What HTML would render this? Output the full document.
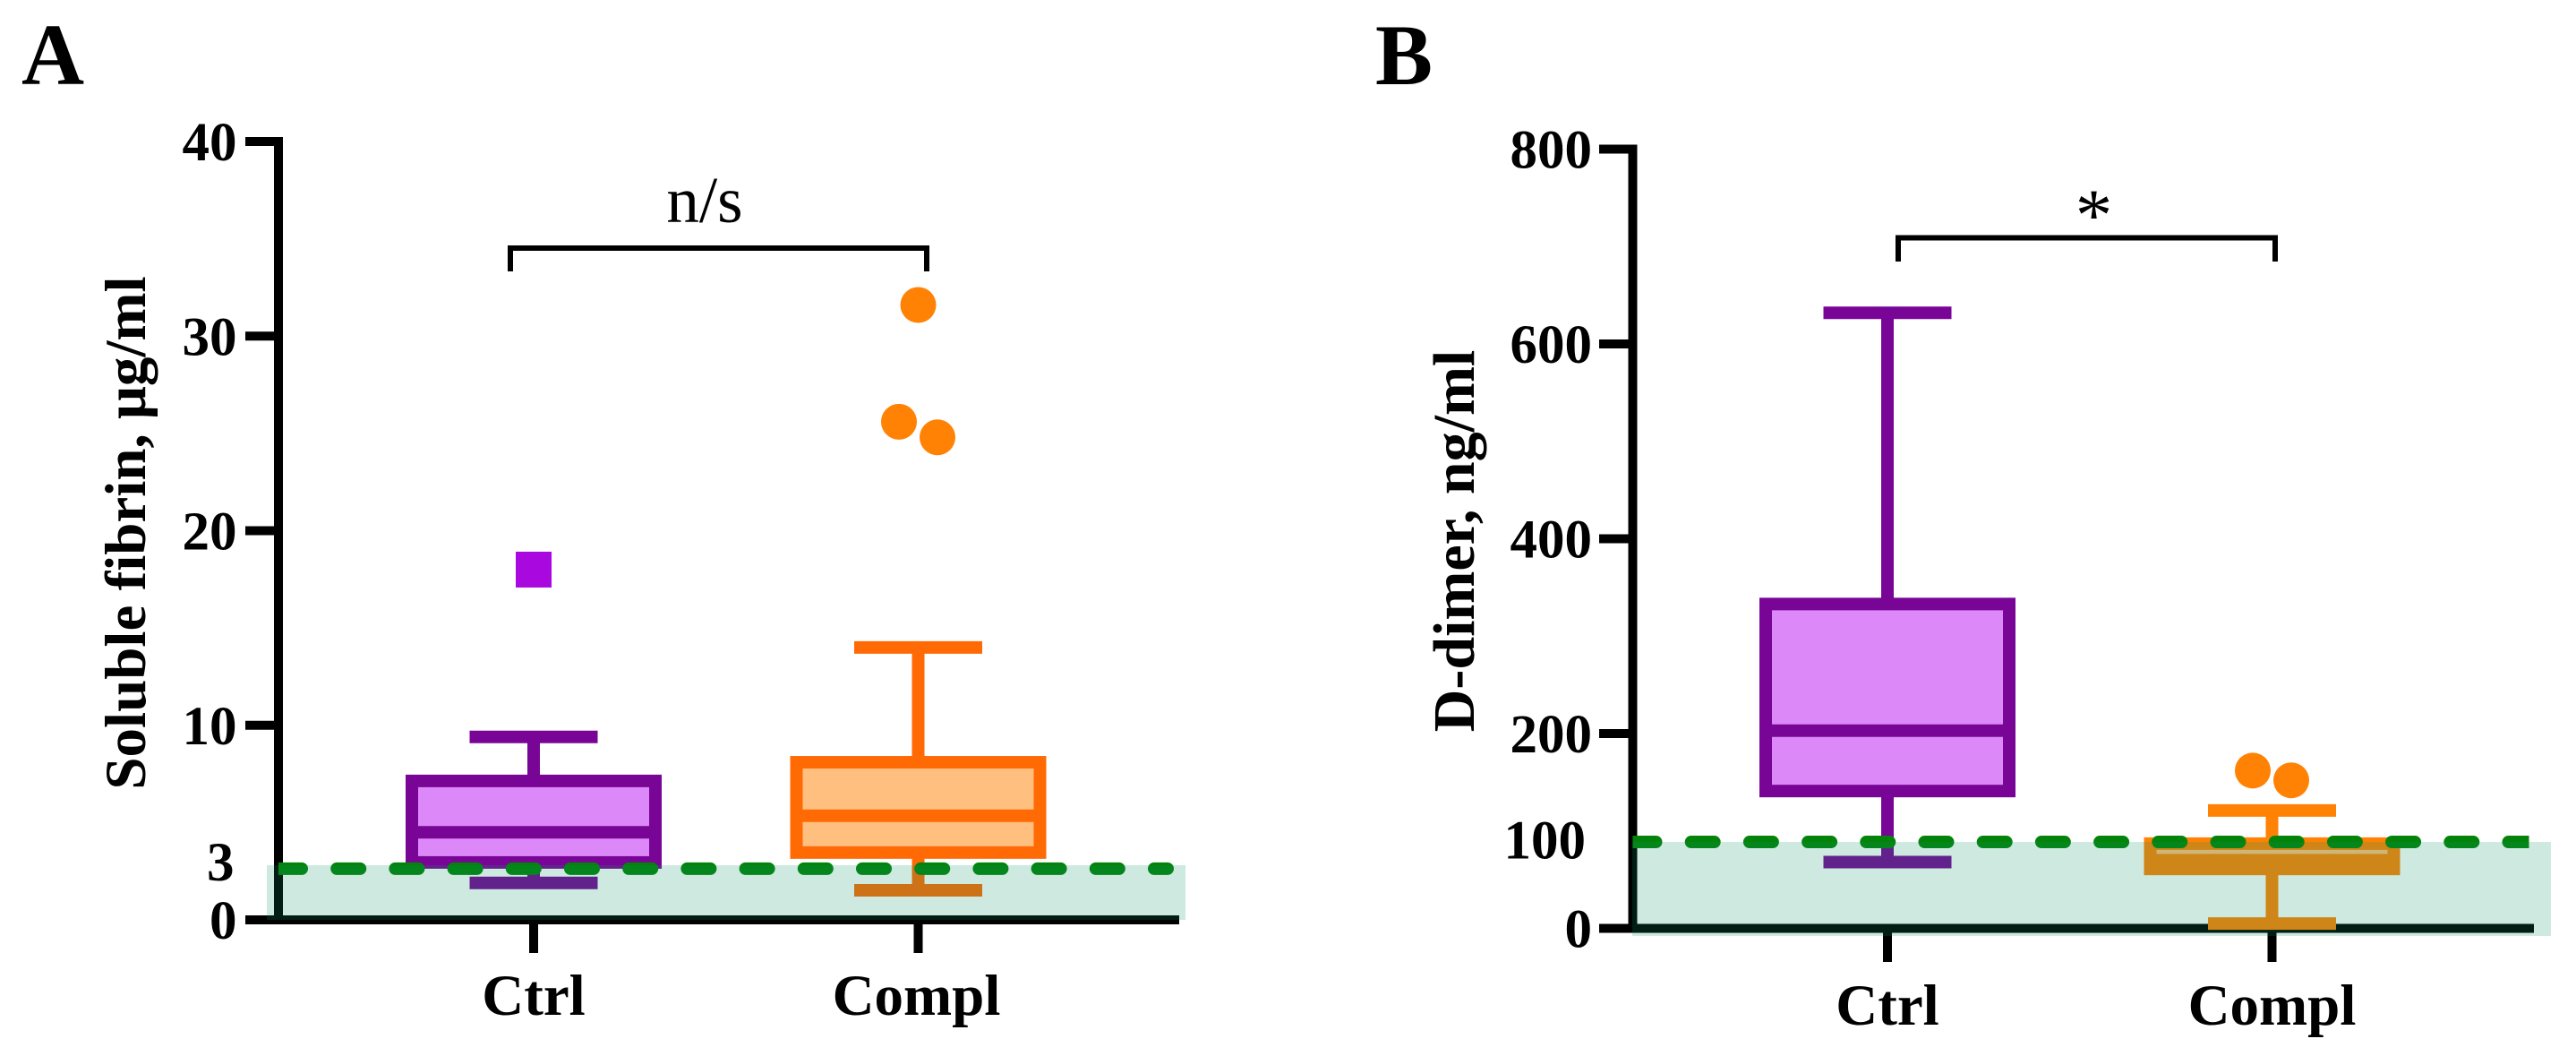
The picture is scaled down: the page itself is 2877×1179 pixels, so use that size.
<!DOCTYPE html>
<html lang="en">
<head>
<meta charset="utf-8">
<title>Soluble fibrin and D-dimer box plots</title>
<style>
html,body{margin:0;padding:0;background:#fff;width:2877px;height:1179px;overflow:hidden}
svg{display:block}
text{font-family:"Liberation Serif","DejaVu Serif",serif;fill:#000}
.b{font-weight:700}
</style>
</head>
<body>
<svg id="figure" width="2877" height="1179" viewBox="0 0 2877 1179" xmlns="http://www.w3.org/2000/svg">
  <rect width="2877" height="1179" fill="#fff"/>
  <defs>
    <clipPath id="clipA"><rect x="311" y="950" width="1000" height="40"/></clipPath>
    <clipPath id="clipB"><rect x="1823.5" y="920" width="1001" height="40"/></clipPath>
  </defs>
  <text class="b" x="24" y="94" font-size="97">A</text>
  <text class="b" x="1536" y="94" font-size="96">B</text>
  <text class="b" font-size="65" text-anchor="middle" transform="translate(162 595) rotate(-90)">Soluble fibrin, μg/ml</text>
  <text class="b" font-size="66" text-anchor="middle" transform="translate(1646 604) rotate(-90)">D-dimer, ng/ml</text>
  <path d="M570 303V277H1035V303" fill="none" stroke="#000" stroke-width="6"/>
  <path d="M2120 292V265.500H2541V292" fill="none" stroke="#000" stroke-width="6"/>
  <text x="787" y="248" font-size="73" text-anchor="middle">n/s</text>
  <text x="2338.500" y="268" font-size="83" text-anchor="middle">*</text>
  <g id="panelA"></g>
  <g id="panelB"></g>
</svg>
<script>
const categories = ['Ctrl', 'Compl'];

const fibrinLow = [1.9, 1.52];
const fibrinQ1 = [2.95, 3.46];
const fibrinMedian = [4.5, 5.35];
const fibrinQ3 = [7.14, 8.1];
const fibrinHigh = [9.4, 14.0];
const fibrinOutliersCtrl = [18];
const fibrinOutliersCompl = [31.6, 25.6, 24.8];
const fibrinOutlierSlotsCompl = [0, -1, 1];
const fibrinTicks = [0, 10, 20, 30, 40];
const fibrinTickLabels = ['0', '10', '20', '30', '40'];
const fibrinReferenceLine = [2.63];
const fibrinReferenceBand = [2.81];
const fibrinReferenceLabel = ['3'];
const fibrinReferenceLabelAt = [3];

const dimerLow = [68, 5];
const dimerQ1 = [141, 61];
const dimerMedian = [203, 70];
const dimerQ3 = [333, 87];
const dimerHigh = [632, 121];
const dimerOutliersCompl = [162, 152];
const dimerOutlierSlotsCompl = [-1, 1];
const dimerTicks = [0, 200, 400, 600, 800];
const dimerTickLabels = ['0', '200', '400', '600', '800'];
const dimerReferenceLine = [88.7];
const dimerReferenceBand = [88.7];
const dimerReferenceLabel = ['100'];
const dimerReferenceLabelAt = [91];

const NS = 'http://www.w3.org/2000/svg';
function mk(parent, tag, props, txt) {
  const el = document.createElementNS(NS, tag);
  for (const k in props) el.setAttribute(k, props[k]);
  if (txt !== undefined) el.textContent = txt;
  parent.appendChild(el);
  return el;
}
function mark(el, name) {
  
  
}

const BOX_W = 272, CAP_W = 143, SW = 14;
const FILL = ['#dd88f8', '#ffbf7f'];

function drawPanel(root, c) {
  // axes
  const yAxis = mk(root, 'rect', {x: c.axisX - 5, y: c.y(c.ticks[c.ticks.length - 1]) - 5, width: 10, height: c.y(0) - c.y(c.ticks[c.ticks.length - 1]) + 10, fill: '#000'});
  mark(yAxis, 'y-axis-line');
  const xAxis = mk(root, 'rect', {x: c.axisLeft, y: c.y(0) - 5, width: c.axisRight - c.axisLeft, height: 10, fill: '#000'});
  mark(xAxis, 'x-axis-line');
  c.ticks.forEach(function (v, i) {
    const t = mk(root, 'rect', {x: c.axisLeft, y: c.y(v) - 5, width: c.axisX - c.axisLeft, height: 10, fill: '#000'});
    mark(t, 'y-tick-' + c.tickLabels[i]);
    const l = mk(root, 'text', {x: c.labelRight, y: c.y(v) + 21, 'font-size': 61, 'font-weight': 700, 'text-anchor': 'end'}, c.tickLabels[i]);
    mark(l, 'y-tick-label-' + c.tickLabels[i]);
  });
  const refLab = mk(root, 'text', {x: c.labelRight + c.refDx, y: c.y(c.refLabelAt[0]) + 21, 'font-size': 61, 'font-weight': 700, 'text-anchor': 'end'}, c.refLabel[0]);
  mark(refLab, 'y-reference-label');

  categories.forEach(function (name, i) {
    const cx = c.x(i);
    const t = mk(root, 'rect', {x: cx - 5, y: c.y(0), width: 10, height: c.tickBottom - c.y(0), fill: '#000'});
    mark(t, 'x-tick-' + name.toLowerCase());
    const l = mk(root, 'text', {x: cx - i * c.catNudge, y: c.catBase, 'font-size': 65, 'font-weight': 700, 'text-anchor': 'middle'}, name);
    mark(l, 'x-tick-label-' + name.toLowerCase());

    const col = c.stroke[i];
    const stem = mk(root, 'line', {x1: cx, x2: cx, y1: c.y(c.low[i]), y2: c.y(c.high[i]), stroke: col, 'stroke-width': SW});
    mark(stem, 'whisker-' + name.toLowerCase());
    const capH = mk(root, 'line', {x1: cx - CAP_W / 2, x2: cx + CAP_W / 2, y1: c.y(c.high[i]), y2: c.y(c.high[i]), stroke: col, 'stroke-width': SW});
    mark(capH, 'whisker-cap-high-' + name.toLowerCase());
    const capL = mk(root, 'line', {x1: cx - CAP_W / 2, x2: cx + CAP_W / 2, y1: c.y(c.low[i]), y2: c.y(c.low[i]), stroke: col, 'stroke-width': SW});
    mark(capL, 'whisker-cap-low-' + name.toLowerCase());
    const box = mk(root, 'rect', {x: cx - BOX_W / 2, y: c.y(c.q3[i]), width: BOX_W, height: c.y(c.q1[i]) - c.y(c.q3[i]), fill: FILL[i], stroke: col, 'stroke-width': SW});
    mark(box, 'box-' + name.toLowerCase());
    const med = mk(root, 'line', {x1: cx - BOX_W / 2, x2: cx + BOX_W / 2, y1: c.y(c.median[i]), y2: c.y(c.median[i]), stroke: col, 'stroke-width': SW});
    mark(med, 'median-' + name.toLowerCase());
  });

  (c.outliersCtrl || []).forEach(function (v, i) {
    const s = mk(root, 'rect', {x: c.x(0) - 20, y: c.y(v) - 20, width: 40, height: 40, fill: '#a908df'});
    mark(s, 'outlier-ctrl-' + i);
  });
  c.outliersCompl.forEach(function (v, i) {
    const p = mk(root, 'circle', {cx: c.x(1) + c.slots[i] * 21.5, cy: c.y(v), r: 20, fill: '#ff8205'});
    mark(p, 'outlier-compl-' + i);
  });

  const dash = mk(root, 'line', {x1: c.axisX, x2: c.dashEnd, y1: c.y(c.refLine[0]), y2: c.y(c.refLine[0]), stroke: '#04830b', 'stroke-width': SW, 'stroke-linecap': 'round', 'stroke-dasharray': '26 39.2', 'clip-path': c.clip});
  mark(dash, 'reference-line');
  const band = mk(root, 'rect', {x: c.bandLeft, y: c.y(c.refBand[0]), width: c.bandRight - c.bandLeft, height: c.bandBottom - c.y(c.refBand[0]), fill: 'rgb(10,150,100)', 'fill-opacity': 0.2});
  mark(band, 'reference-range-band');
}

drawPanel(document.getElementById('panelA'), {
  x: function (i) { return 596 + i * 429.5; },
  y: function (v) { return 1027 - 21.725 * v; },
  axisX: 311, axisLeft: 274, axisRight: 1317, tickBottom: 1064, labelRight: 264.5, refDx: -3,
  catBase: 1133, catNudge: 2, stroke: ['#780596', '#ff6a05'],
  low: fibrinLow, q1: fibrinQ1, median: fibrinMedian, q3: fibrinQ3, high: fibrinHigh,
  outliersCtrl: fibrinOutliersCtrl, outliersCompl: fibrinOutliersCompl, slots: fibrinOutlierSlotsCompl,
  ticks: fibrinTicks, tickLabels: fibrinTickLabels,
  refLine: fibrinReferenceLine, refBand: fibrinReferenceBand, refLabel: fibrinReferenceLabel, refLabelAt: fibrinReferenceLabelAt,
  dashEnd: 1304, clip: 'url(#clipA)',
  bandLeft: 298, bandRight: 1324, bandBottom: 1027
});

drawPanel(document.getElementById('panelB'), {
  x: function (i) { return 2108 + i * 429.5; },
  y: function (v) { return 1036.5 - 1.0875 * v; },
  axisX: 1823.5, axisLeft: 1786, axisRight: 2830, tickBottom: 1074, labelRight: 1778, refDx: -7,
  catBase: 1144, catNudge: 0, stroke: ['#780596', '#ff8205'],
  low: dimerLow, q1: dimerQ1, median: dimerMedian, q3: dimerQ3, high: dimerHigh,
  outliersCompl: dimerOutliersCompl, slots: dimerOutlierSlotsCompl,
  ticks: dimerTicks, tickLabels: dimerTickLabels,
  refLine: dimerReferenceLine, refBand: dimerReferenceBand, refLabel: dimerReferenceLabel, refLabelAt: dimerReferenceLabelAt,
  dashEnd: 2824, clip: 'url(#clipB)',
  bandLeft: 1823, bandRight: 2849, bandBottom: 1045
});
</script>
</body>
</html>
